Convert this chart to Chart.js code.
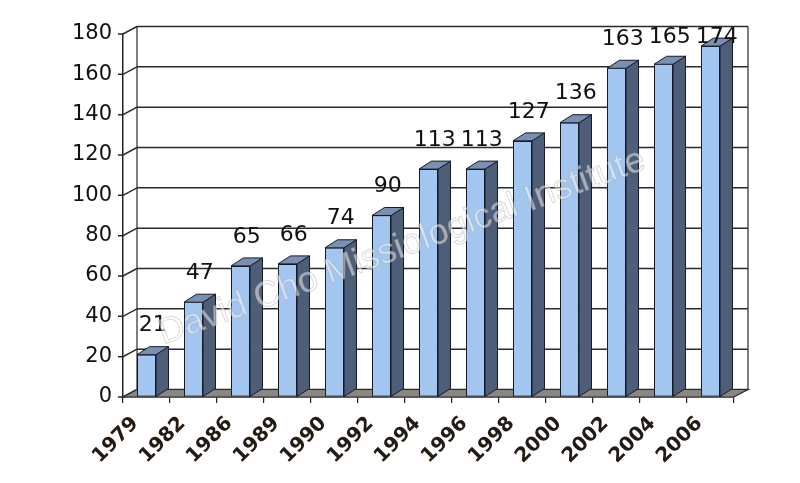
<!DOCTYPE html>
<html>
<head>
<meta charset="utf-8">
<script src="https://cdn.jsdelivr.net/npm/chart.js@4.4.1/dist/chart.umd.min.js"></script>
<style>
  html, body { margin: 0; padding: 0; background: #fff; }
  canvas { display: block; }
</style>
</head>
<body>
<canvas id="grafico" width="800" height="483"></canvas>
<script>
// data
const years = ["1979", "1982", "1986", "1989", "1990", "1992", "1994", "1996", "1998", "2000", "2002", "2004", "2006"];
const members = [21, 47, 65, 66, 74, 90, 113, 113, 127, 136, 163, 165, 174];
const yTicks = [0, 20, 40, 60, 80, 100, 120, 140, 160, 180];

// fake 3d depth
const WALL_DX = 14, WALL_DY = -7.5;
const BAR_DX = 12.5, BAR_DY = -8;

const walls = {
    id: "walls",
    beforeDatasetsDraw(chart) {
        const { ctx, chartArea: a, scales: { y } } = chart;
        const top = y.getPixelForValue(yTicks[yTicks.length - 1]);
        const bottom = y.getPixelForValue(0);
        ctx.save();
        // back wall
        ctx.fillStyle = "#ffffff";
        ctx.fillRect(a.left + WALL_DX, top + WALL_DY, a.right - a.left, bottom - top);
        ctx.strokeStyle = "#2a2a2a";
        ctx.lineWidth = 1.5;
        yTicks.forEach(v => {
            const py = y.getPixelForValue(v);
            ctx.beginPath();
            ctx.moveTo(a.left + WALL_DX, py + WALL_DY);
            ctx.lineTo(a.right + WALL_DX, py + WALL_DY);
            ctx.stroke();
            // tick + connector to the wall
            ctx.beginPath();
            ctx.moveTo(a.left - 5, py);
            ctx.lineTo(a.left, py);
            ctx.lineTo(a.left + WALL_DX, py + WALL_DY);
            ctx.stroke();
        });
        ctx.lineWidth = 1.2;
        ctx.beginPath();
        ctx.moveTo(a.left + WALL_DX, top + WALL_DY);
        ctx.lineTo(a.left + WALL_DX, bottom + WALL_DY);
        ctx.moveTo(a.right + WALL_DX, top + WALL_DY);
        ctx.lineTo(a.right + WALL_DX, bottom + WALL_DY);
        ctx.stroke();
        // floor
        ctx.fillStyle = "#8a8682";
        ctx.beginPath();
        ctx.moveTo(a.left, bottom);
        ctx.lineTo(a.right, bottom);
        ctx.lineTo(a.right + WALL_DX, bottom + WALL_DY);
        ctx.lineTo(a.left + WALL_DX, bottom + WALL_DY);
        ctx.closePath();
        ctx.fill();
        ctx.stroke();
        ctx.restore();
    },
    afterDatasetsDraw(chart) {
        const { ctx } = chart;
        const meta = chart.getDatasetMeta(0);
        ctx.save();
        ctx.strokeStyle = "#141a28";
        ctx.lineWidth = 1;
        ctx.lineJoin = "round";
        meta.data.forEach((bar, i) => {
            const { x, y, base, width } = bar.getProps(["x", "y", "base", "width"], true);
            const l = x - width / 2, r = x + width / 2;
            // side
            ctx.fillStyle = "#4e5e79";
            ctx.beginPath();
            ctx.moveTo(r, y);
            ctx.lineTo(r + BAR_DX, y + BAR_DY);
            ctx.lineTo(r + BAR_DX, base + BAR_DY);
            ctx.lineTo(r, base);
            ctx.closePath();
            ctx.fill();
            ctx.stroke();
            // top
            ctx.fillStyle = "#7a90b2";
            ctx.beginPath();
            ctx.moveTo(l, y);
            ctx.lineTo(l + BAR_DX, y + BAR_DY);
            ctx.lineTo(r + BAR_DX, y + BAR_DY);
            ctx.lineTo(r, y);
            ctx.closePath();
            ctx.fill();
            ctx.stroke();
            // value label
            ctx.fillStyle = "#111";
            ctx.font = "22px 'DejaVu Sans'";
            ctx.textAlign = "center";
            ctx.textBaseline = "middle";
            ctx.fillText(String(members[i]), x + BAR_DX / 2, Math.max(y - 29, 37));
        });
        ctx.restore();
    },
    afterDraw(chart) {
        const { ctx } = chart;
        const text = "David Cho Missiological Institute";
        ctx.save();
        ctx.translate(402, 247);
        ctx.rotate(-20 * Math.PI / 180);
        ctx.font = "30px 'Liberation Sans'";
        const w = ctx.measureText(text).width;
        const size = 30 * 515 / w;
        ctx.font = size + "px 'Liberation Sans'";
        ctx.textAlign = "center";
        ctx.textBaseline = "alphabetic";
        ctx.fillStyle = "rgba(255,255,255,0.5)";
        ctx.fillText(text, 0, 10);
        ctx.strokeStyle = "rgba(150,150,150,0.35)";
        ctx.lineWidth = 1;
        ctx.strokeText(text, 0, 10);
        ctx.restore();
    }
};

const ctx = document.getElementById("grafico").getContext("2d");
const grafico = new Chart(ctx, {
    type: "bar",
    data: {
        labels: years,
        datasets: [{
            data: members,
            backgroundColor: "#a3c6f0",
            borderColor: "#141a28",
            borderWidth: 1,
            borderSkipped: false,
            barPercentage: 0.404,
            categoryPercentage: 1
        }]
    },
    options: {
        responsive: false,
        animation: false,
        devicePixelRatio: 1,
        layout: { padding: { top: 34, right: 66, left: 0, bottom: 0 } },
        plugins: { legend: { display: false }, tooltip: { enabled: false } },
        scales: {
            x: {
                afterFit(scale) { scale.height = 86; },
                grid: { display: true, offset: true, drawOnChartArea: false, tickLength: 6, color: "#222", lineWidth: 1.2 },
                border: { display: true, color: "#222", width: 1.5 },
                ticks: {
                    minRotation: 45,
                    maxRotation: 45,
                    autoSkip: false,
                    labelOffset: -11,
                    padding: 9,
                    color: "#231a12",
                    font: { family: "'DejaVu Sans'", size: 20, weight: "bold" }
                }
            },
            y: {
                min: 0,
                max: 180,
                afterFit(scale) { scale.width = 123; },
                afterBuildTicks(scale) { scale.ticks = yTicks.map(v => ({ value: v })); },
                grid: { display: true, drawOnChartArea: false, drawTicks: false },
                border: { display: true, color: "#222", width: 1.5 },
                ticks: {
                    padding: 11,
                    color: "#111",
                    font: { family: "'DejaVu Sans'", size: 21 }
                }
            }
        }
    },
    plugins: [walls]
});
</script>
</body>
</html>
